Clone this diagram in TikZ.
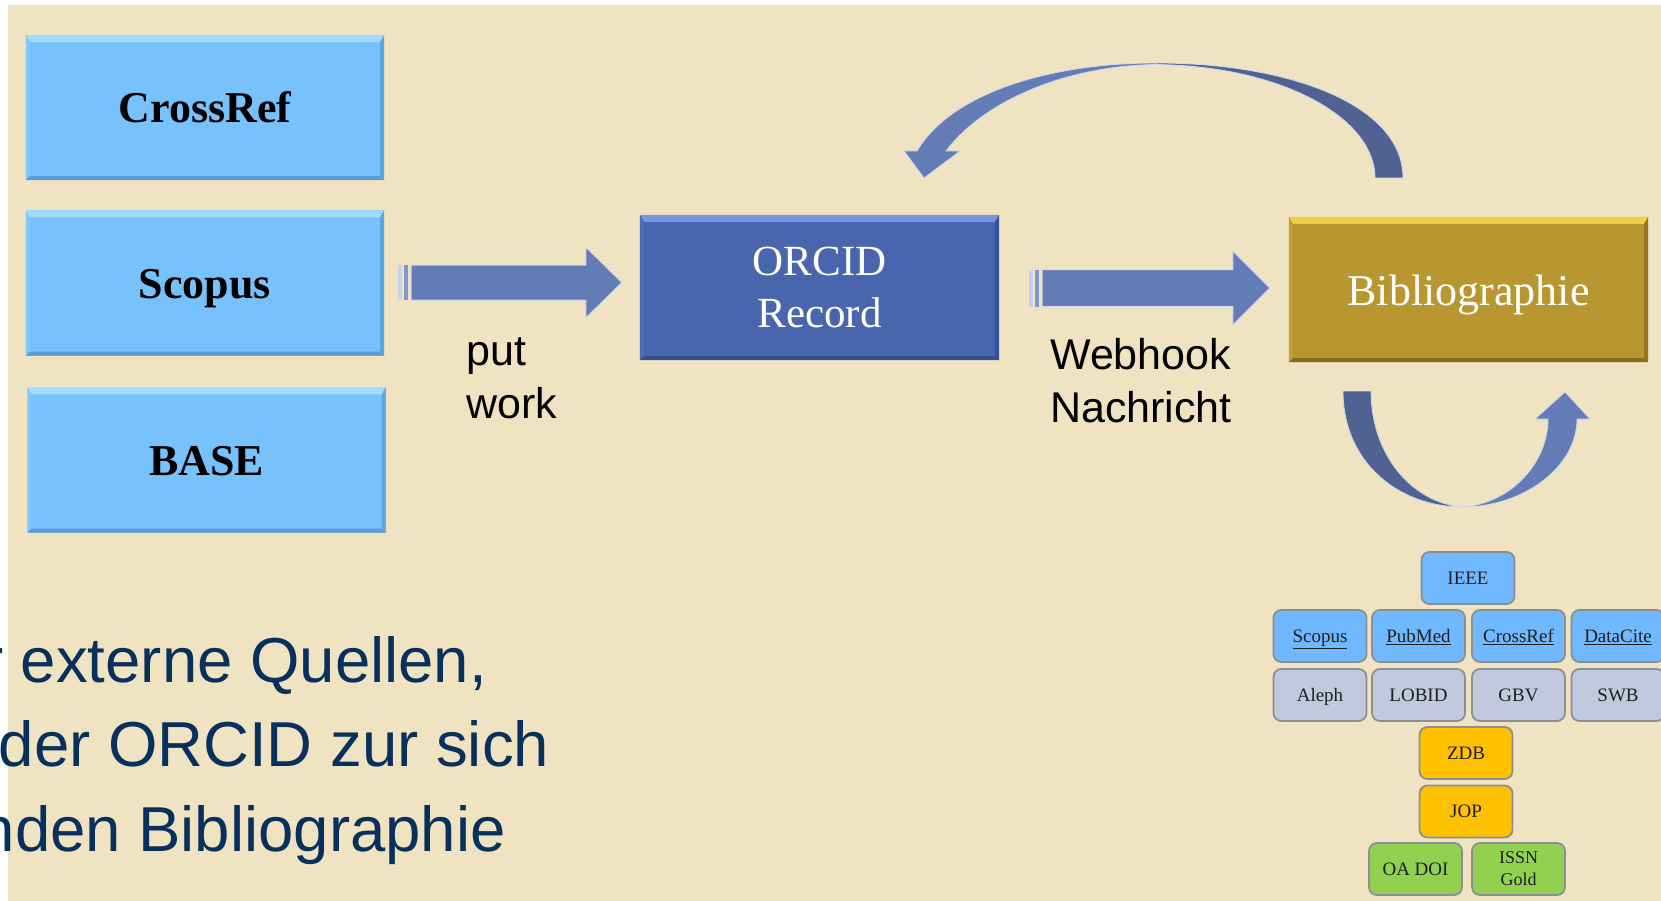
\documentclass[tikz,border=0pt]{standalone}
\usepackage{fontspec}
\setmainfont{Liberation Serif}
\newfontfamily\arialfont{Liberation Sans}
\usetikzlibrary{calc}
\definecolor{bgbeige}{RGB}{239,227,193}
\definecolor{lblue}{RGB}{119,194,253}
\definecolor{lbluetop}{RGB}{160,220,255}
\definecolor{lblueleft}{RGB}{128,200,254}
\definecolor{lblueright}{RGB}{95,165,222}
\definecolor{lbluebot}{RGB}{90,155,212}
\definecolor{orcidc}{RGB}{73,101,173}
\definecolor{orcidtop}{RGB}{120,150,222}
\definecolor{orcidleft}{RGB}{80,110,183}
\definecolor{orcidright}{RGB}{58,82,145}
\definecolor{orcidbot}{RGB}{55,78,138}
\definecolor{goldc}{RGB}{185,151,48}
\definecolor{goldtop}{RGB}{240,205,75}
\definecolor{goldleft}{RGB}{195,160,52}
\definecolor{goldright}{RGB}{145,117,35}
\definecolor{goldbot}{RGB}{135,108,30}
\definecolor{arrowc}{RGB}{100,124,182}
\definecolor{arrowd}{RGB}{79,98,146}
\definecolor{arrowglow}{RGB}{208,216,238}
\definecolor{stripeA}{RGB}{200,208,234}
\definecolor{stripeB}{RGB}{130,150,205}
\definecolor{navytext}{RGB}{8,48,92}
\definecolor{sblue}{RGB}{112,184,255}
\definecolor{sgrey}{RGB}{193,201,222}
\definecolor{sorange}{RGB}{255,192,0}
\definecolor{sgreen}{RGB}{146,208,80}
\definecolor{sborder}{RGB}{140,142,148}
\definecolor{stext}{RGB}{30,30,30}

% bevel: top strip 7, other strips 4
\newcommand\bevelbox[5]{%
  \fill[#2] (#1.north west) -- (#1.north east) -- ($(#1.north east)+(-4,7)$) -- ($(#1.north west)+(4,7)$) -- cycle;
  \fill[#3] (#1.north west) -- ($(#1.north west)+(4,7)$) -- ($(#1.south west)+(4,-4)$) -- (#1.south west) -- cycle;
  \fill[#4] (#1.north east) -- ($(#1.north east)+(-4,7)$) -- ($(#1.south east)+(-4,-4)$) -- (#1.south east) -- cycle;
  \fill[#5] (#1.south west) -- ($(#1.south west)+(4,-4)$) -- ($(#1.south east)+(-4,-4)$) -- (#1.south east) -- cycle;
}

\begin{document}
\begin{tikzpicture}[x=1pt,y=-1pt,
  bigbox/.style={minimum width=358, minimum height=145, inner sep=0, text height=31, text depth=0},
  srcbox/.style={bigbox, fill=lblue, font=\fontsize{44}{50}\selectfont\bfseries},
  sbox/.style={draw=sborder, line width=1.8, rounded corners=8, minimum width=93, minimum height=52, inner sep=0, text=stext, font=\fontsize{19}{23}\selectfont, text height=12.5, text depth=0},
  sboxml/.style={draw=sborder, line width=1.8, rounded corners=8, minimum width=93, minimum height=52, inner sep=0, text=stext, font=\fontsize{18}{22}\selectfont, align=center},
  lbl/.style={font=\arialfont\fontsize{43}{53}\selectfont, inner sep=0, align=left, anchor=base west},
  flow/.style={fill=arrowc, draw=arrowglow, line width=1},
  bodytext/.style={font=\arialfont\fontsize{63.5}{84}\selectfont, text=navytext, inner sep=0, anchor=base west}
]
\clip (0,0) rectangle (1661,901);
\fill[white] (0,0) rectangle (1661,901);
\fill[bgbeige] (8,5) rectangle (1661,901);

% source boxes
\node[srcbox] (crossref) at (205,107.5) {CrossRef};
\bevelbox{crossref}{lbluetop}{lblueleft}{lblueright}{lbluebot}
\node[srcbox] (scopus) at (205,283) {Scopus};
\bevelbox{scopus}{lbluetop}{lblueleft}{lblueright}{lbluebot}
\node[srcbox] (base) at (206.5,460) {BASE};
\bevelbox{base}{lbluetop}{lblueleft}{lblueright}{lbluebot}

% ORCID record
\node[minimum width=359, minimum height=145, inner sep=0, fill=orcidc, text=white, align=center,
  font=\fontsize{43}{52}\selectfont] (orcid) at (819.5,287.5) {ORCID\\Record};
\bevelbox{orcid}{orcidtop}{orcidleft}{orcidright}{orcidbot}

% Bibliographie
\node[bigbox, minimum width=359, fill=goldc, text=white, font=\fontsize{44}{50}\selectfont] (bib) at (1468.5,289.5) {Bibliographie};
\bevelbox{bib}{goldtop}{goldleft}{goldright}{goldbot}

% straight arrow 1: sources -> ORCID
\coordinate (a1s) at ($(scopus.east)+(14,-0.5)$);
\coordinate (a1e) at ($(a1s -| orcid.west)+(-18,0)$);
\fill[stripeA] ($(a1s)+(0,-17.5)$) rectangle ($(a1s)+(4,17.5)$);
\fill[stripeB] ($(a1s)+(6,-17.5)$) rectangle ($(a1s)+(10,17.5)$);
\path[flow] ($(a1s)+(13,-17.5)$) -- ($(a1e)+(-36,-17.5)$) -- ($(a1e)+(-36,-35.5)$) -- (a1e)
  -- ($(a1e)+(-36,35.5)$) -- ($(a1e)+(-36,17.5)$) -- ($(a1s)+(13,17.5)$) -- cycle;

% straight arrow 2: ORCID -> Bibliographie
\coordinate (a2s) at ($(orcid.east)+(30,0.5)$);
\coordinate (a2e) at ($(a2s -| bib.west)+(-19,0)$);
\fill[stripeA] ($(a2s)+(0,-18.5)$) rectangle ($(a2s)+(4,18.5)$);
\fill[stripeB] ($(a2s)+(6,-18.5)$) rectangle ($(a2s)+(10,18.5)$);
\path[flow] ($(a2s)+(13,-18.5)$) -- ($(a2e)+(-37,-18.5)$) -- ($(a2e)+(-37,-37)$) -- (a2e)
  -- ($(a2e)+(-37,37)$) -- ($(a2e)+(-37,18.5)$) -- ($(a2s)+(13,18.5)$) -- cycle;

% labels (base anchor = last line)
\node[lbl] (putwork) at (466,418) {put\\work};
\node[lbl] (webhook) at (1050,422) {Webhook\\Nachricht};

% curved arrow on top: Bibliographie -> ORCID
\path[fill=arrowc, draw=arrowglow, line width=0.8]
  (917,151) -- (904,151) -- (924,178) -- (960,151) -- (946,151)
  .. controls (982,103) and (1062,66) .. (1156,64.5) -- (1156,63)
  .. controls (1052,63) and (952,92) .. (917,151) -- cycle;
\path[fill=arrowd, draw=arrowglow, line width=0.8]
  (1156,63) .. controls (1290,63) and (1403,105) .. (1403,178) -- (1375,178)
  .. controls (1375,118) and (1282,66) .. (1156,64.5) -- cycle;

% curved arrow below Bibliographie
\path[fill=arrowd, draw=arrowglow, line width=0.8]
  (1343,391) -- (1371,391) .. controls (1371,455) and (1412,503) .. (1463,507)
  .. controls (1398,507) and (1343,462) .. (1343,391) -- cycle;
\path[fill=arrowc, draw=arrowglow, line width=0.8]
  (1463,507) .. controls (1522,507) and (1577,468) .. (1577,419) -- (1590,419) -- (1565,392)
  -- (1535,419) -- (1548,419) .. controls (1548,462) and (1512,503) .. (1463,507) -- cycle;

% small source grid
\node[sbox, fill=sblue] (ieee) at (1468,578) {IEEE};
\node[sbox, fill=sblue] (sscopus) at (1320,636) {\underline{Scopus}};
\node[sbox, fill=sblue] (spubmed) at (1418.5,636) {\underline{PubMed}};
\node[sbox, fill=sblue] (scrossref) at (1518.5,636) {\underline{CrossRef}};
\node[sbox, fill=sblue] (sdatacite) at (1618,636) {\underline{DataCite}};
\node[sbox, fill=sgrey] (saleph) at (1320,695) {Aleph};
\node[sbox, fill=sgrey] (slobid) at (1418.5,695) {LOBID};
\node[sbox, fill=sgrey] (sgbv) at (1518.5,695) {GBV};
\node[sbox, fill=sgrey] (sswb) at (1618,695) {SWB};
\node[sbox, fill=sorange] (szdb) at (1466,753) {ZDB};
\node[sbox, fill=sorange] (sjop) at (1466,811.5) {JOP};
\node[sbox, fill=sgreen] (soadoi) at (1415.5,869) {OA DOI};
\node[sboxml, fill=sgreen] (sissn) at (1518.5,869) {ISSN\\Gold};

% body text (cut at the left edge, as in the reference)
\node[bodytext] (line1) at (-18,682) {r externe Quellen,};
\node[bodytext] (line2) at (-1.5,766) {der ORCID zur sich};
\node[bodytext] (line3) at (-20.5,851) {nden Bibliographie};
\end{tikzpicture}
\end{document}
